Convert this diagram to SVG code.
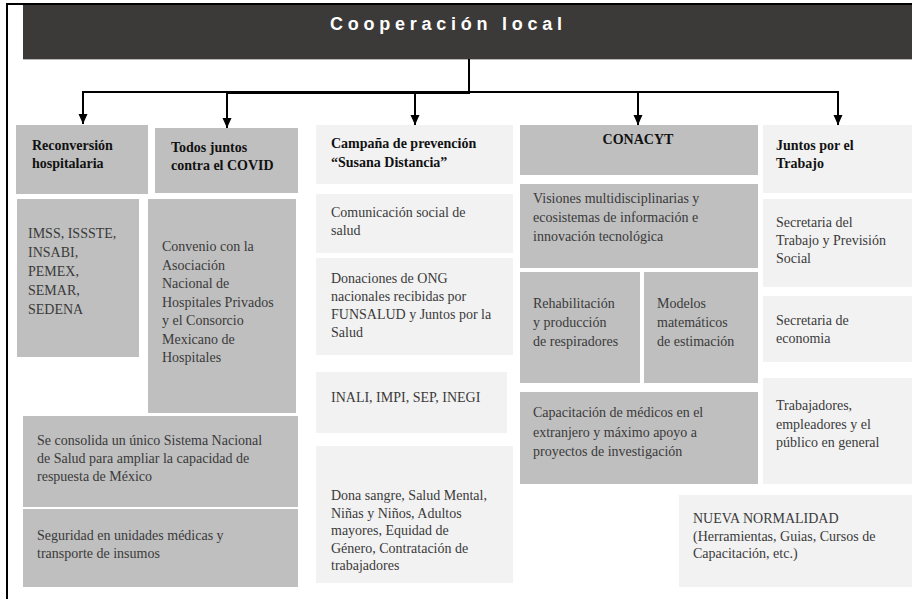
<svg xmlns="http://www.w3.org/2000/svg" width="912" height="599" viewBox="0 0 912 599">
<defs>
<marker id="ah" markerUnits="userSpaceOnUse" markerWidth="10" markerHeight="10" refX="10" refY="4.5" orient="auto">
<path d="M0,0 L10,4.5 L0,9 z" fill="#000"/>
</marker>
<style>
.g{fill:#bfbfbf}
.l{fill:#f2f2f2}
.t{font-family:"Liberation Serif","Times New Roman",serif;font-size:14px;fill:#3a3a3a}
.b{font-family:"Liberation Serif","Times New Roman",serif;font-size:14px;font-weight:bold;fill:#111111}
.c{stroke:#000;stroke-width:2;fill:none}
</style>
</defs>
<rect width="912" height="599" fill="#ffffff"/>
<g id="frame">
<line x1="6" y1="4" x2="912" y2="4" stroke="#000" stroke-width="2"/>
<line x1="7" y1="3" x2="7" y2="599" stroke="#000" stroke-width="2"/>
</g>
<g id="header">
<rect x="23" y="5" width="889" height="54" fill="#3b3a38"/>
<line x1="23" y1="59.5" x2="912" y2="59.5" stroke="#b8b8b8" stroke-width="1"/>
<text x="330" y="30" textLength="232" lengthAdjust="spacing" font-family="'Liberation Sans Narrow','Liberation Sans',sans-serif" font-size="18" font-weight="bold" fill="#ffffff">Cooperación local</text>
</g>
<g id="connectors">
<line class="c" x1="469" y1="59" x2="469" y2="93"/>
<line class="c" x1="82" y1="92" x2="839" y2="92"/>
<line class="c" x1="226" y1="93" x2="470" y2="93"/>
<line class="c" x1="83" y1="92" x2="83" y2="124" marker-end="url(#ah)"/>
<line class="c" x1="227" y1="92" x2="227" y2="128" marker-end="url(#ah)"/>
<line class="c" x1="415" y1="92" x2="415" y2="125" marker-end="url(#ah)"/>
<line class="c" x1="638" y1="92" x2="638" y2="125" marker-end="url(#ah)"/>
<line class="c" x1="838" y1="92" x2="838" y2="125" marker-end="url(#ah)"/>
</g>
<g id="reconversion">
<rect class="g" x="16" y="125" width="132" height="69"/>
<text class="b" x="32" y="150">Reconversión</text>
<text class="b" x="32" y="168">hospitalaria</text>
</g>
<g id="todos-juntos">
<rect class="g" x="155" y="128" width="143" height="65"/>
<text class="b" x="171" y="152">Todos juntos</text>
<text class="b" x="171" y="170">contra el COVID</text>
</g>
<g id="imss">
<rect class="g" x="17" y="199" width="122" height="158"/>
<text class="t" x="28" y="238">IMSS, ISSSTE,</text>
<text class="t" x="28" y="257">INSABI,</text>
<text class="t" x="28" y="276">PEMEX,</text>
<text class="t" x="28" y="295">SEMAR,</text>
<text class="t" x="28" y="314">SEDENA</text>
</g>
<g id="convenio">
<rect class="g" x="148" y="199" width="148" height="214"/>
<text class="t" x="162" y="251">Convenio con la</text>
<text class="t" x="162" y="269.5">Asociación</text>
<text class="t" x="162" y="288">Nacional de</text>
<text class="t" x="162" y="306.5">Hospitales Privados</text>
<text class="t" x="162" y="325">y el Consorcio</text>
<text class="t" x="162" y="343.5">Mexicano de</text>
<text class="t" x="162" y="362">Hospitales</text>
</g>
<g id="sistema-nacional">
<rect class="g" x="23" y="416" width="275" height="91"/>
<text class="t" x="37" y="445">Se consolida un único Sistema Nacional</text>
<text class="t" x="37" y="463">de Salud para ampliar la capacidad de</text>
<text class="t" x="37" y="481">respuesta de México</text>
</g>
<g id="seguridad">
<rect class="g" x="23" y="509" width="275" height="78"/>
<text class="t" x="37" y="540">Seguridad en unidades médicas y</text>
<text class="t" x="37" y="558">transporte de insumos</text>
</g>
<g id="campana">
<rect class="l" x="316" y="125" width="197" height="59"/>
<text class="b" x="331" y="148">Campaña de prevención</text>
<text class="b" x="331" y="167">“Susana Distancia”</text>
</g>
<g id="comunicacion">
<rect class="l" x="316" y="194" width="197" height="59"/>
<text class="t" x="331" y="217">Comunicación social de</text>
<text class="t" x="331" y="235">salud</text>
</g>
<g id="donaciones">
<rect class="l" x="316" y="258" width="197" height="97"/>
<text class="t" x="331" y="283">Donaciones de ONG</text>
<text class="t" x="331" y="301">nacionales recibidas por</text>
<text class="t" x="331" y="319">FUNSALUD y Juntos por la</text>
<text class="t" x="331" y="337">Salud</text>
</g>
<g id="inali">
<rect class="l" x="316" y="372" width="191" height="61"/>
<text class="t" x="331" y="402">INALI, IMPI, SEP, INEGI</text>
</g>
<g id="dona-sangre">
<rect class="l" x="316" y="446" width="197" height="137"/>
<text class="t" x="331" y="500">Dona sangre, Salud Mental,</text>
<text class="t" x="331" y="517.5">Niñas y Niños, Adultos</text>
<text class="t" x="331" y="535">mayores, Equidad de</text>
<text class="t" x="331" y="552.5">Género, Contratación de</text>
<text class="t" x="331" y="570">trabajadores</text>
</g>
<g id="conacyt">
<rect class="g" x="520" y="125" width="238" height="50"/>
<text class="b" x="638" y="144" text-anchor="middle">CONACYT</text>
</g>
<g id="visiones">
<rect class="g" x="520" y="184" width="238" height="84"/>
<text class="t" x="533" y="203">Visiones multidisciplinarias y</text>
<text class="t" x="533" y="222">ecosistemas de información e</text>
<text class="t" x="533" y="241">innovación tecnológica</text>
</g>
<g id="rehabilitacion">
<rect class="g" x="520" y="272" width="120" height="111"/>
<text class="t" x="533" y="308">Rehabilitación</text>
<text class="t" x="533" y="327">y producción</text>
<text class="t" x="533" y="346">de respiradores</text>
</g>
<g id="modelos">
<rect class="g" x="644" y="272" width="114" height="111"/>
<text class="t" x="657" y="308">Modelos</text>
<text class="t" x="657" y="327">matemáticos</text>
<text class="t" x="657" y="346">de estimación</text>
</g>
<g id="capacitacion">
<rect class="g" x="520" y="392" width="238" height="92"/>
<text class="t" x="533" y="417">Capacitación de médicos en el</text>
<text class="t" x="533" y="436.5">extranjero y máximo apoyo a</text>
<text class="t" x="533" y="456">proyectos de investigación</text>
</g>
<g id="juntos-trabajo">
<rect class="l" x="763" y="125" width="149" height="68"/>
<text class="b" x="776" y="150">Juntos por el</text>
<text class="b" x="776" y="168">Trabajo</text>
</g>
<g id="stps">
<rect class="l" x="763" y="199" width="149" height="88"/>
<text class="t" x="776" y="227">Secretaria del</text>
<text class="t" x="776" y="245">Trabajo y Previsión</text>
<text class="t" x="776" y="263">Social</text>
</g>
<g id="economia">
<rect class="l" x="763" y="296" width="149" height="66"/>
<text class="t" x="776" y="325">Secretaria de</text>
<text class="t" x="776" y="343">economia</text>
</g>
<g id="trabajadores">
<rect class="l" x="763" y="378" width="149" height="106"/>
<text class="t" x="776" y="410">Trabajadores,</text>
<text class="t" x="776" y="428.5">empleadores y el</text>
<text class="t" x="776" y="447">público en general</text>
</g>
<g id="nueva-normalidad">
<rect class="l" x="679" y="495" width="233" height="92"/>
<text class="t" x="693" y="523">NUEVA NORMALIDAD</text>
<text class="t" x="693" y="540.5">(Herramientas, Guias, Cursos de</text>
<text class="t" x="693" y="558">Capacitación, etc.)</text>
</g>
</svg>
